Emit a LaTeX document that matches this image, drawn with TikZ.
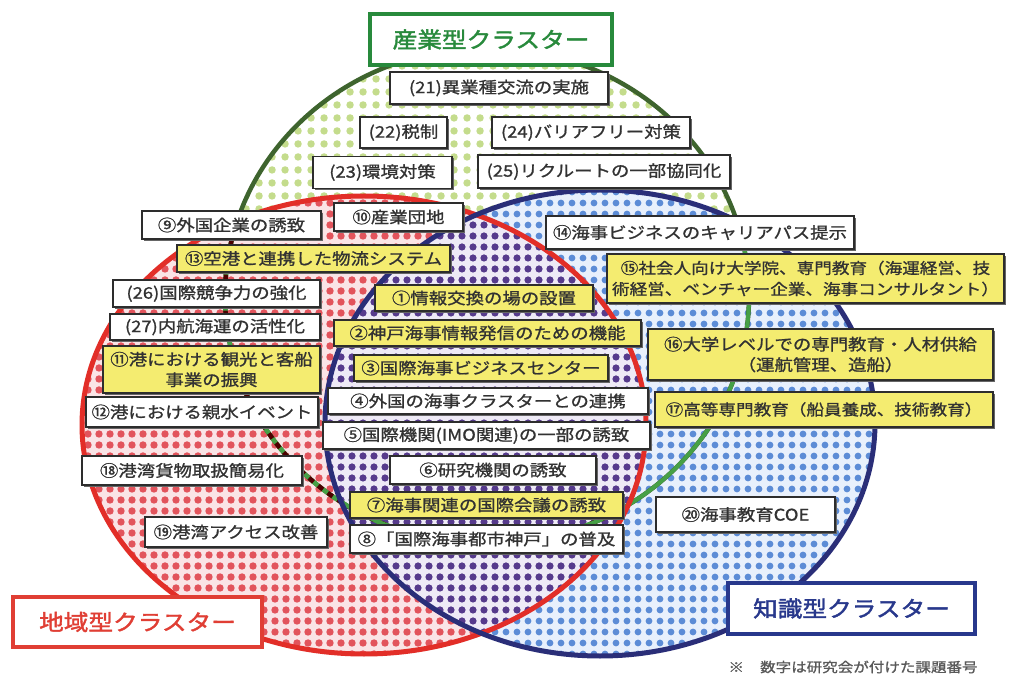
\documentclass[tikz,border=0pt]{standalone}
\usepackage{fontspec}
\setmainfont[FakeStretch=1.15, FakeBold=1.1]{Noto Sans CJK JP}
\newfontfamily\titlefont[FakeStretch=1.12, FakeBold=1.8]{Noto Sans CJK JP}
\usetikzlibrary{patterns.meta,shadows}
\definecolor{gdot}{RGB}{196,220,140}
\definecolor{rdot}{RGB}{226,84,92}
\definecolor{rbg}{RGB}{250,228,230}
\definecolor{bdot}{RGB}{92,140,214}
\definecolor{bbg}{RGB}{232,240,252}
\definecolor{pdot}{RGB}{86,58,140}
\definecolor{pbg}{RGB}{238,234,246}
\definecolor{gline}{RGB}{62,100,46}
\definecolor{gline2}{RGB}{70,160,70}
\definecolor{rline}{RGB}{226,46,40}
\definecolor{bline}{RGB}{42,46,120}
\definecolor{gtitle}{RGB}{40,138,60}
\definecolor{rtitle}{RGB}{224,62,52}
\definecolor{btitle}{RGB}{40,56,140}
\definecolor{yel}{RGB}{244,236,112}
\definecolor{txt}{RGB}{50,50,50}
\definecolor{boxline}{RGB}{45,45,45}
\begin{document}
\begin{tikzpicture}[x=1pt,y=-1pt,
  box/.style={draw=boxline, line width=1.3pt, fill=white, inner sep=0pt, align=center,
    text=txt, font=\fontsize{16}{20.5}\selectfont,
    drop shadow={shadow xshift=1.8pt, shadow yshift=-1.8pt, fill=black!60, opacity=1}},
  ybox/.style={box, fill=yel},
  title/.style={line width=3.2pt, fill=white, inner sep=0pt, font=\titlefont\fontsize{22}{26}\selectfont},
  sz/.style 2 args={minimum width=#1pt, minimum height=#2pt}]
\useasboundingbox (0,0) rectangle (1010,676);
\fill[white] (0,0) rectangle (1010,676);
% green region
\fill[white] (487,296) ellipse [x radius=262pt, y radius=248pt];
\fill[pattern={Dots[radius=4pt,distance=13pt]}, pattern color=gdot] (487,296) ellipse [x radius=262pt, y radius=248pt];
% red region
\fill[rbg] (364,425) ellipse [x radius=282pt, y radius=229pt];
\fill[pattern={Dots[radius=3.7pt,distance=11pt]}, pattern color=rdot] (364,425) ellipse [x radius=282pt, y radius=229pt];
% blue region
\fill[bbg] (600,423) ellipse [x radius=275pt, y radius=233pt];
\fill[pattern={Dots[radius=3.4pt,distance=11pt]}, pattern color=bdot] (600,423) ellipse [x radius=275pt, y radius=233pt];
% overlap red-blue
\begin{scope}
\clip (364,425) ellipse [x radius=282pt, y radius=229pt];
\fill[pbg] (600,423) ellipse [x radius=275pt, y radius=233pt];
\fill[pattern={Dots[radius=3.6pt,distance=11pt]}, pattern color=pdot] (600,423) ellipse [x radius=275pt, y radius=233pt];
\end{scope}
% outlines
\draw[gline, line width=4.5pt] (487,296) ellipse [x radius=262pt, y radius=248pt];
\begin{scope}
\clip (364,425) ellipse [x radius=282pt, y radius=229pt];
\draw[gline2, line width=4.5pt] (487,296) ellipse [x radius=262pt, y radius=248pt];
\draw[black!70!red, line width=4.5pt, dash pattern=on 6pt off 6pt] (487,296) ellipse [x radius=262pt, y radius=248pt];
\end{scope}
\begin{scope}
\clip (600,423) ellipse [x radius=275pt, y radius=233pt];
\draw[gline2, line width=4pt] (487,296) ellipse [x radius=262pt, y radius=248pt];
\end{scope}
\draw[rline, line width=5pt] (364,425) ellipse [x radius=282pt, y radius=229pt];
\draw[bline, line width=5pt] (600,423) ellipse [x radius=275pt, y radius=233pt];
% titles
\node[title, draw=gtitle, text=gtitle, sz={242}{51}] (tG) at (491,39.5) {産業型クラスター};
\node[title, draw=rtitle, text=rtitle, sz={249}{50}] (tR) at (137.5,622) {地域型クラスター};
\node[title, draw=btitle, text=btitle, sz={247}{51}] (tK) at (851.5,608.5) {知識型クラスター};
% boxes
\node[box, sz={218}{32}] (p21) at (499,88) {(21)異業種交流の実施};
\node[box, sz={87}{31}] (p22) at (403.5,132.5) {(22)税制};
\node[box, sz={198}{31}] (p24) at (591,132.5) {(24)バリアフリー対策};
\node[box, sz={139}{32}] (p23) at (382.5,172.5) {(23)環境対策};
\node[box, sz={252}{33}] (p25) at (604,171.5) {(25)リクルートの一部協同化};
\node[box, sz={179}{28}] (p9) at (231.5,225) {⑨外国企業の誘致};
\node[box, sz={129}{28}] (p10) at (398.5,217) {⑩産業団地};
\node[box, sz={308}{33}] (p14) at (700,232.5) {⑭海事ビジネスのキャリアパス提示};
\node[ybox, sz={273}{27}] (p13) at (313.5,258.5) {⑬空港と連携した物流システム};
\node[ybox, sz={397}{49}, font=\fontsize{15.3}{21}\selectfont] (p15) at (805.5,278.5) {⑮社会人向け大学院、専門教育（海運経営、技\\術経営、ベンチャー企業、海事コンサルタント）};
\node[box, sz={207}{27}] (p26) at (216.5,293.5) {(26)国際競争力の強化};
\node[ybox, sz={218}{26}] (p1) at (484,298) {①情報交換の場の設置};
\node[box, sz={210}{26}] (p27) at (215,327) {(27)内航海運の活性化};
\node[ybox, sz={307}{26}] (p2) at (487.5,333) {②神戸海事情報発信のための機能};
\node[ybox, sz={217}{47}] (p11) at (211.5,369.5) {⑪港における観光と客船\\事業の振興};
\node[ybox, sz={345}{51}] (p16) at (820.5,354.5) {⑯大学レベルでの専門教育・人材供給\\（運航管理、造船）};
\node[ybox, sz={254}{26}] (p3) at (481,368) {③国際海事ビジネスセンター};
\node[box, sz={232}{30}] (p12) at (202,412) {⑫港における親水イベント};
\node[box, sz={320}{26}] (p4) at (488,401) {④外国の海事クラスターとの連携};
\node[ybox, sz={338}{35}, font=\fontsize{15.3}{20}\selectfont] (p17) at (824,409.5) {⑰高等専門教育（船員養成、技術教育）};
\node[box, sz={327}{27}] (p5) at (486.5,435.5) {⑤国際機関(IMO関連)の一部の誘致};
\node[box, sz={220}{29}] (p18) at (192,470.5) {⑱港湾貨物取扱簡易化};
\node[box, sz={206}{28}] (p6) at (493,470) {⑥研究機関の誘致};
\node[ybox, sz={273}{26}] (p7) at (486.5,505) {⑦海事関連の国際会議の誘致};
\node[box, sz={179}{35}] (p20) at (745.5,514.5) {⑳海事教育COE};
\node[box, sz={182}{30}] (p19) at (236,532) {⑲港湾アクセス改善};
\node[box, sz={273}{28}] (p8) at (486.5,539) {⑧「国際海事都市神戸」の普及};
\node[text=black!65, font=\fontsize{13.5}{16}\selectfont, inner sep=0pt] (note) at (853,667) {※\hspace{1.2em}数字は研究会が付けた課題番号};
\end{tikzpicture}
\end{document}
